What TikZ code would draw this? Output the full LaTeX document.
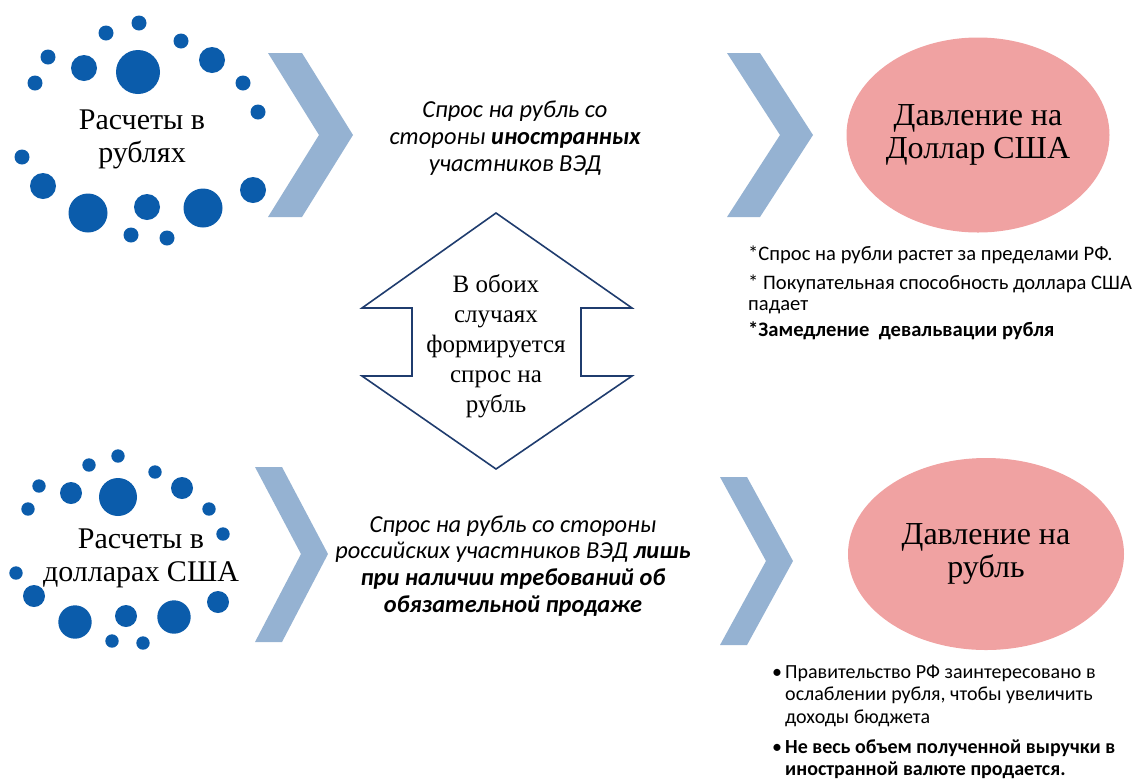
\documentclass[tikz,border=0pt]{standalone}
\usepackage{fontspec}
\setmainfont{Liberation Serif}
\newfontfamily\calib{Carlito}
\usetikzlibrary{shapes.geometric}
\definecolor{beadblue}{HTML}{0B5CAB}
\definecolor{chevblue}{HTML}{95B2D2}
\definecolor{pressred}{HTML}{F0A2A2}
\definecolor{arrownavy}{HTML}{1F3C6E}
\begin{document}
\begin{tikzpicture}[x=1pt, y=-1pt,
        bead/.style={fill=beadblue},
        chevron/.style={fill=chevblue},
        payment/.style={align=center, inner sep=0pt, font=\fontsize{30}{33}\selectfont},
        pressure/.style={ellipse, fill=pressred, inner sep=0pt, align=center, font=\fontsize{32}{33}\selectfont},
        demand/.style={align=center, inner sep=0pt, font=\calib\itshape\fontsize{24.4}{26.8}\selectfont},
        note/.style={anchor=north west, align=left, inner sep=0pt, font=\calib\fontsize{20}{22.3}\selectfont}]
        \useasboundingbox (0,0) rectangle (1137,780);
        % beads round the payment labels
        \foreach \x/\y/\r in {139/23/7.5, 106/33/7.5, 181/41/7.5, 48/57/7.5, 84/68/13, 138/72/22,
                212/60/13, 35/83/7.5, 243/83/7.5, 258/112/7.5, 22/157/7.5, 43/186/13, 88/213/19.5,
                147/207/13, 203/208/19.5, 253/190/13, 131/235/7.5, 167/238/7.5}
            \fill[bead] (\x,\y) circle[radius=\r pt];
        \foreach \x/\y/\r in {118/456/6.7, 89/465/6.7, 155/472/6.7, 39/486/6.7, 71/493/11, 118/497/19,
                182/488/11, 28/509/6.7, 209/509/6.7, 223/534/6.7, 16/573/6.7, 34/596/11, 75/622/16.7,
                126/616/11, 174/617/16.7, 218/602/11, 112/641/6.7, 143/643/6.7}
            \fill[bead] (\x,\y) circle[radius=\r pt];
        \node[payment] (rub) at (142,139) {Расчеты в\\рублях};
        \node[payment] (usd) at (141,558) {Расчеты в\\долларах США};
        % chevrons
        \fill[chevron] (268,53) -- (302,53) -- (353,135) -- (302,217) -- (268,217) -- (319,135) -- cycle;
        \fill[chevron] (727,53) -- (760,53) -- (813,135) -- (760,217) -- (727,217) -- (780,135) -- cycle;
        \fill[chevron] (255,467) -- (282,467) -- (328,554) -- (282,642) -- (255,642) -- (301,554) -- cycle;
        \fill[chevron] (720,477) -- (747,477) -- (793,561) -- (747,645) -- (720,645) -- (766,561) -- cycle;
        \node[demand] (foreign) at (515,138) {Спрос на рубль со\\стороны \textbf{иностранных}\\участников ВЭД};
        \node[demand] (russian) at (513,566) {Спрос на рубль со стороны\\российских участников ВЭД \textbf{лишь}\\\textbf{при наличии требований об}\\\textbf{обязательной продаже}};
        % up-down arrow
        \draw[arrownavy, line width=1.6pt, fill=white, line join=miter] (496,213) -- (632,308) -- (581,308) -- (581,376) -- (632,376)
            -- (496,469) -- (362,376) -- (412,376) -- (412,308) -- (362,308) -- cycle;
        \node[align=center, inner sep=0pt, font=\fontsize{25}{30}\selectfont] (both) at (496,346) {В обоих\\случаях\\формируется\\спрос на\\рубль};
        % pressure ellipses
        \node[pressure, minimum width=263pt, minimum height=195pt] (pressusd) at (978,135) {Давление на\\Доллар США};
        \node[pressure, minimum width=276pt, minimum height=192pt] (pressrub) at (986,554) {Давление на\\рубль};
        \node[note, font=\calib\fontsize{20.6}{21}\selectfont] (noteusd) at (748,246) {*Спрос на рубли растет за пределами РФ.\\[8pt]* Покупательная способность доллара США\\падает\\[5pt]\textbf{*Замедление\ \ девальвации рубля}};
        \node[note] (noterub) at (772,665) {\makebox[13pt][l]{•}Правительство РФ заинтересовано в\\\hspace*{13pt}ослаблении рубля, чтобы увеличить\\\hspace*{13pt}доходы бюджета\\[7.5pt]\makebox[13pt][l]{•}\textbf{Не весь объем полученной выручки в}\\\hspace*{13pt}\textbf{иностранной валюте продается.}};
\end{tikzpicture}
\end{document}
